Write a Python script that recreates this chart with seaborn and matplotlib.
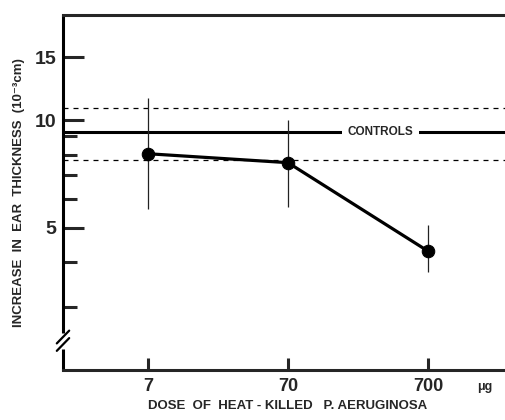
import numpy as np
import pandas as pd
import matplotlib
matplotlib.use("Agg")
import matplotlib.pyplot as plt
import seaborn as sns

# valores (espessura da orelha, 10^-3 cm)
dose = [7, 70, 700]
thickness = [8.05, 7.6, 4.3]
err_low = [5.65, 5.7, 3.75]
err_high = [11.5, 10.0, 5.1]

control_mean = 9.25
control_low = 7.75
control_high = 10.8

y_major = [5, 10, 15]
y_minor = [3, 4, 6, 7, 8, 9]

sns.set_style("ticks")
plt.rcParams['font.family'] = ['Liberation Sans', 'DejaVu Sans']
plt.rcParams['font.weight'] = 'bold'

df = pd.DataFrame({'dose': dose, 'thickness': thickness})

fig = plt.figure(figsize=(5.06, 4.2), dpi=100)
ax = fig.add_axes([0.1245, 0.119, 0.8755, 0.845])

# linhas dos controles
ax.axhline(control_mean, color='black', lw=2.2, zorder=1)
ax.axhline(control_high, color='black', lw=0.9, ls=(0, (4, 4)), zorder=1)
ax.axhline(control_low, color='black', lw=0.9, ls=(0, (4, 4)), zorder=1)

# barras de erro finas
ax.vlines(dose, err_low, err_high, color='#222222', lw=0.9, zorder=2)

sns.lineplot(data=df, x='dose', y='thickness', ax=ax, color='black', lw=2.3,
             marker='o', markersize=9, markeredgecolor='black', zorder=3)

ax.set_xscale('log')
ax.set_yscale('log')
ax.set_xlim(1.73, 2525)
ax.set_ylim(2.0, 19.65)

ax.set_xticks(dose)
ax.set_xticklabels([str(d) for d in dose], fontsize=13, fontweight='bold')
ax.xaxis.set_minor_locator(matplotlib.ticker.NullLocator())
ax.set_yticks(y_major)
ax.set_yticklabels([str(v) for v in y_major], fontsize=14, fontweight='bold')
ax.set_yticks(y_minor, minor=True)
ax.yaxis.set_minor_formatter(matplotlib.ticker.NullFormatter())

ax.tick_params(axis='y', which='major', direction='in', length=15, width=2.2, pad=5)
ax.tick_params(axis='y', which='minor', direction='in', length=10, width=2.2)
ax.tick_params(axis='x', which='major', direction='in', length=9, width=2.2, pad=6)

ax.text(322, control_mean, 'CONTROLS', ha='center', va='center', fontsize=8.5,
        fontweight='bold', bbox=dict(facecolor='white', edgecolor='none', pad=4), zorder=2)

ax.text(0.953, -0.048, 'μg', transform=ax.transAxes, ha='center', va='center',
        fontsize=9, fontweight='bold')

ax.set_xlabel('DOSE  OF  HEAT - KILLED   P. AERUGINOSA', fontsize=9.5, fontweight='bold')
ax.xaxis.set_label_coords(0.508, -0.085)
ax.set_ylabel('INCREASE  IN  EAR  THICKNESS  (10⁻³cm)', fontsize=9.5, fontweight='bold')
ax.yaxis.set_label_coords(-0.086, 0.5)

ax.spines['right'].set_visible(False)
ax.spines['left'].set_visible(False)
for s in ['top', 'bottom']:
    ax.spines[s].set_linewidth(2.2)

# eixo y interrompido (//)
ax.plot([0, 0], [0.105, 1.003], transform=ax.transAxes, color='black', lw=2.2,
        clip_on=False, solid_capstyle='butt')
ax.plot([0, 0], [-0.003, 0.06], transform=ax.transAxes, color='black', lw=2.2,
        clip_on=False, solid_capstyle='butt')
for yc in [0.072, 0.093]:
    ax.plot([-0.014, 0.014], [yc - 0.018, yc + 0.018], transform=ax.transAxes,
            color='black', lw=1.6, clip_on=False)

fig.savefig('out.png', dpi=100)
